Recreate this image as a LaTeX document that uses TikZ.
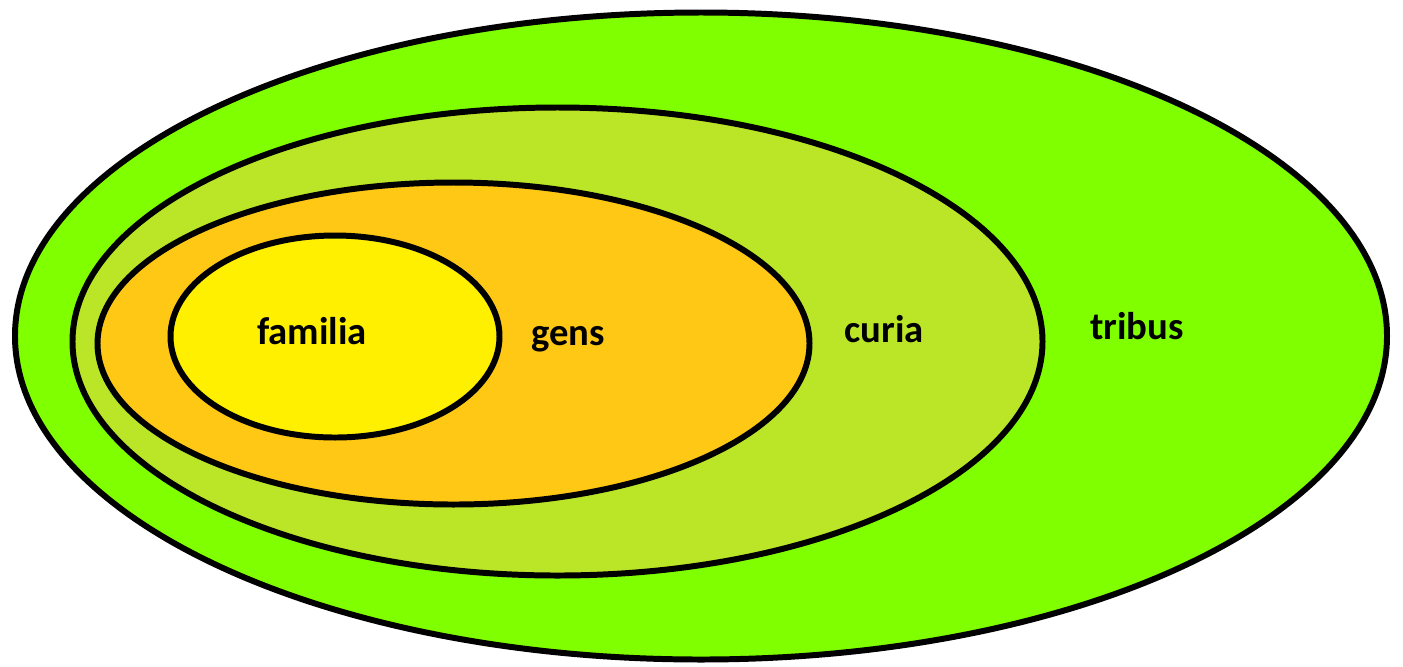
\documentclass[tikz,border=0pt]{standalone}
\usepackage{fontspec}
\setmainfont{Carlito}
\usepackage{tikz}
\usetikzlibrary{positioning}
\definecolor{TribusGreen}{HTML}{80FF00}
\definecolor{CuriaLime}{HTML}{BBE628}
\definecolor{GensOrange}{HTML}{FFC814}
\definecolor{FamiliaYellow}{HTML}{FFF000}

\begin{document}
\begin{tikzpicture}[x=0.01cm,y=-0.01cm, ring/.style={draw=black,line width=1.7pt}, every node/.style={font=\fontsize{11}{13}\selectfont\bfseries,text=black}]
    \useasboundingbox (0,0) rectangle (1403,666);
    \draw[ring,fill=TribusGreen] (701,336) ellipse [x radius=686,y radius=323.5];
    \draw[ring,fill=CuriaLime] (557.5,341.5) ellipse [x radius=485,y radius=234];
    \draw[ring,fill=GensOrange] (453.5,343.5) ellipse [x radius=356,y radius=161];
    \draw[ring,fill=FamiliaYellow] (335,336.5) ellipse [x radius=164.5,y radius=101];
    \node (familia) at (312,331) {familia};
    \node (gens) at (568,339) {gens};
    \node (curia) at (884,329) {curia};
    \node (tribus) at (1137,326) {tribus};
  \end{tikzpicture}
\end{document}
